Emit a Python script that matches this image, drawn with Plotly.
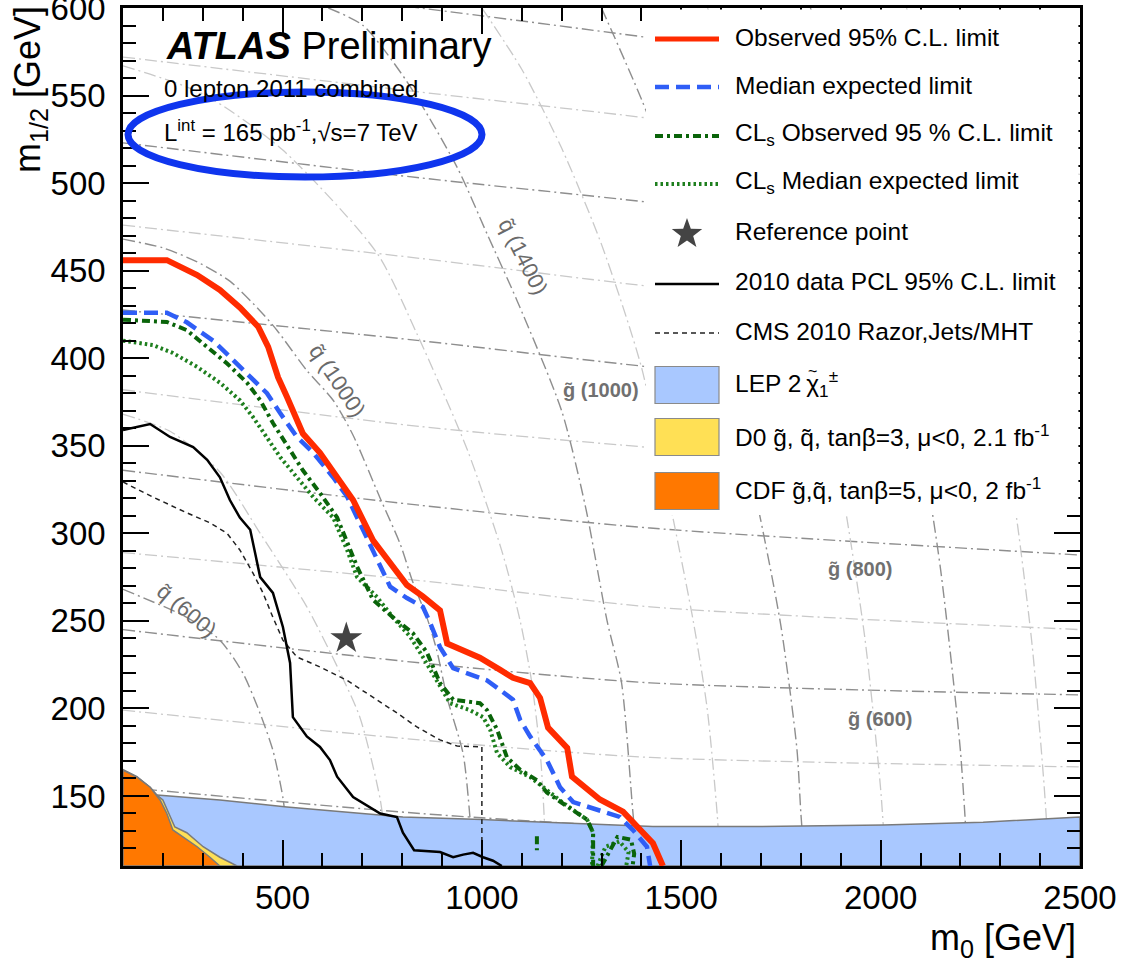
import math
import plotly.graph_objects as go

FONT = "Liberation Sans, Arial, Helvetica, sans-serif"

# axis ranges (m0, m1/2 in GeV)
X_RANGE = [100, 2500]
Y_RANGE = [110, 600]

# ---------------- exclusion contours ----------------
obs_m0 = [100, 210, 286, 343, 393, 439, 464, 489, 511, 551, 594, 637, 677, 727, 777, 812, 852, 895, 913, 963,
          995, 1046, 1078, 1121, 1146, 1166, 1214, 1226, 1296, 1354, 1389, 1429, 1454]
obs_m12 = [456, 456, 447.5, 439, 429, 418, 406.5, 389, 378, 357, 346, 332, 319, 296, 281, 270.5, 264, 256, 237, 232,
           229, 222, 217.5, 214.5, 206, 189, 177.5, 161, 148, 141, 132, 123, 110]

exp_m0 = [100, 210, 260, 326, 376, 426, 461, 494, 536, 577, 627, 662, 702, 752, 770, 812, 852, 870, 895, 928,
          988, 1013, 1046, 1078, 1096, 1121, 1163, 1196, 1229, 1296, 1346, 1379, 1414, 1422]
exp_m12 = [426, 426, 420.5, 410, 399, 387.5, 380, 368.7, 355, 346, 332, 321, 302, 277.5, 269.5, 263, 258, 249, 235, 223,
           218, 216, 210.5, 205, 193.5, 184, 170.5, 155, 146.5, 142, 138, 130.5, 121, 110]

cls_obs_m0 = [100, 210, 260, 311, 361, 411, 444, 476, 519, 551, 594, 637, 687, 727, 777, 827, 862, 895, 928, 995,
              1013, 1038, 1063, 1096, 1138, 1163, 1214, 1264, 1279, 1279,
              None, 1138, 1138,
              None, 1300, 1340, 1374, 1382, 1378]
cls_obs_m12 = [422, 420.7, 416, 406.4, 397, 386, 376, 363, 347.6, 336, 323, 309, 281, 262, 252, 243, 232, 214.5, 205, 203,
               199, 188, 172, 165, 159, 152, 144, 136.5, 129, 110,
               None, 127, 119,
               None, 110, 126.6, 125, 117, 110]

cls_exp_m0 = [100, 175, 225, 286, 343, 393, 426, 461, 494, 536, 577, 627, 662, 687, 737, 777, 820, 852, 887, 920,
              970, 1003, 1021, 1038, 1071, 1121, 1163, 1204, 1264, 1279, 1276,
              None, 1290, 1310, 1345, 1368, 1362]
cls_exp_m12 = [410, 407.5, 403, 395, 386, 376, 366.4, 355, 343.6, 332, 320.7, 309, 290.5, 275, 263.6, 252, 241, 229.4, 216, 203,
               199, 195, 187.7, 174.5, 166.5, 160.8, 153.4, 146, 136.4, 129, 110,
               None, 110, 121, 124, 118, 110]

pcl2010_m0 = [100, 168, 218, 276, 311, 343, 368, 393, 419, 444, 476, 501, 519, 526, 561, 594, 619, 637, 677, 745,
              787, 802, 830, 895, 928, 953, 978, 1003, 1028, 1050]
pcl2010_m12 = [359, 362.4, 355, 349.3, 342, 332, 319, 309, 302, 275, 266, 246.5, 226, 195, 184, 178, 170.5, 161, 149.4, 140,
               138, 129, 119, 118, 115, 116.5, 117.5, 115, 113, 110]

cms2010_m0 = [100, 175, 261, 318, 361, 393, 426, 451, 476, 501, 536, 594, 662, 727, 787, 837, 895, 938, 1000, 1000]
cms2010_m12 = [329.3, 320.7, 311.6, 306, 300, 290.5, 277.3, 266, 252, 239, 229.4, 223.7, 216, 206.5, 197.4, 189.4, 182,
               178.5, 178, 110]

# excluded regions from earlier experiments (upper edges)
lep_m0 = [100, 185, 343, 511, 677, 802, 1000, 1178, 1429, 1700, 2006, 2257, 2500]
lep_m12 = [152, 150.5, 147.7, 143.7, 140.3, 138, 136.5, 135, 132.5, 132.5, 133.4, 135, 138]

d0_m0 = [100, 135, 168, 185, 200, 230, 260, 301, 343, 386]
d0_m12 = [165, 161, 155, 150.5, 147.7, 132.3, 129, 121, 115, 110]

cdf_m0 = [100, 135, 168, 193, 210, 225, 250, 286, 318, 343]
cdf_m12 = [164.8, 160.8, 155, 147.7, 140, 130.6, 126.6, 121, 115, 110]

ref_m0 = [660]
ref_m12 = [240]

# ---------------- gluino iso-mass lines ----------------
gl_m0 = [100, 845, 1422, 2500]
gl400_m12 = [155, 140, 132, 127]
gl500_m12 = [199, 182, 172, 166.6]
gl600_m12 = [245, 226, 214.6, 207.7]
gl700_m12 = [289, 273, 258, 245]
gl800_m12 = [336, 316, 303, 287.6]
gl900_m12 = [382, 361, 349, 330]
gl1000_m12 = [427.5, 410, 395, 372]
gl1100_m12 = [476, 457, 441, 415]
gl1200_m12 = [523, 503, 489, 460]
gl1300_m12 = [572, 552, 537, 505]
gl1400_m12 = [620, 600, 583, 550]

# ---------------- squark iso-mass lines ----------------
sq600_m0 = [100, 260, 343, 401, 444, 476, 501, 515]
sq600_m12 = [268, 252, 239, 220, 197, 176, 149, 120]
sq800_m0 = [100, 220, 343, 444, 561, 637, 694, 745, 765]
sq800_m12 = [368, 358, 335, 300, 258, 224, 195, 148, 110]
sq1000_m0 = [100, 200, 286, 368, 444, 486, 561, 627, 677, 745, 795, 827, 862, 887, 913, 953, 970, 978]
sq1000_m12 = [468, 463, 455, 444, 427, 416, 393, 376, 356, 320, 294, 272, 252, 233, 206, 174, 138, 110]
sq1200_m0 = [100, 300, 500, 737, 837, 963, 1050, 1096, 1125, 1148, 1162]
sq1200_m12 = [567, 551, 519, 460, 414, 348, 290, 250, 215, 170, 110]
sq1400_m0 = [615, 702, 812, 938, 1013, 1088, 1200, 1260, 1314, 1350, 1379, 1392]
sq1400_m12 = [600, 590, 558, 509, 471, 433, 370, 315, 250, 215, 140, 110]
sq1600_m0 = [1000, 1100, 1200, 1300, 1400, 1479, 1530, 1565, 1590, 1598]
sq1600_m12 = [600, 565, 520, 465, 395, 309, 250, 200, 140, 110]
sq1800_m0 = [1300, 1400, 1500, 1600, 1698, 1750, 1790, 1800, 1810]
sq1800_m12 = [600, 548, 488, 412, 309, 247, 177, 140, 110]
sq2000_m0 = [1566, 1700, 1800, 1900, 1960, 2000, 2013]
sq2000_m12 = [600, 515, 435, 329, 241, 154, 110]
sq2200_m0 = [1824, 1900, 2000, 2100, 2150, 2200, 2219]
sq2200_m12 = [600, 546, 462, 353, 280, 176, 110]
sq2400_m0 = [2065, 2100, 2200, 2300, 2342, 2380, 2410, 2423]
sq2400_m12 = [600, 573, 484, 370, 307, 236, 156, 110]

# contour labels
sq_label_text = ["q\u0303 (600)", "q\u0303 (1000)", "q\u0303 (1400)"]
sq_label_m0 = [260, 637, 1103]
sq_label_m12 = [256, 387, 458]
sq_label_angle = [40, 56, 63]
gl_label_text = ["g\u0303 (1000)", "g\u0303 (800)", "g\u0303 (600)"]
gl_label_m0 = [1299, 1948, 1998]
gl_label_m12 = [382, 279.6, 194]

# legend entries
legend_labels = [
    "Observed 95% C.L. limit",
    "Median expected limit",
    "CL<sub>s</sub> Observed 95 % C.L. limit",
    "CL<sub>s</sub> Median expected limit",
    "Reference point",
    "2010 data PCL 95% C.L. limit",
    "CMS 2010 Razor,Jets/MHT",
    "LEP 2\u2009\u03c7<sub>1</sub><sup>\u00b1</sup>",
    "D0 g\u0303, q\u0303, tan\u03b2=3, \u03bc&lt;0, 2.1 fb<sup>-1</sup>",
    "CDF g\u0303,q\u0303, tan\u03b2=5, \u03bc&lt;0, 2 fb<sup>-1</sup>",
]

# ---------------- styles ----------------
RED = "#FF2B00"
BLUE = "#2F5EF6"
GREEN_DD = "#0A640A"
GREEN_DOT = "#1E7F1E"
LEP_FILL = "#A9C8FF"
D0_FILL = "#FFE055"
CDF_FILL = "#FF7800"
GRID_DARK = dict(color="#8E8E8E", width=1.4, dash="12px,4px,2px,4px")
GRID_LIGHT = dict(color="#C9C9C9", width=1.3, dash="12px,4px,2px,4px")

obs_line = dict(color=RED, width=6)
exp_line = dict(color=BLUE, width=4.5, dash="14px,7px")
cls_obs_line = dict(color=GREEN_DD, width=4, dash="8px,4px,3px,4px")
cls_exp_line = dict(color=GREEN_DOT, width=4, dash="2.5px,3px")
pcl_line = dict(color="black", width=2.5)
cms_line = dict(color="#222222", width=1.5, dash="5px,4px")

fig = go.Figure()


def iso_line(m0, m12, style):
    fig.add_trace(go.Scatter(x=m0, y=m12, mode="lines",
                             line=dict(shape="spline", smoothing=0.7, **style),
                             hoverinfo="skip", showlegend=False))


for m12 in [gl400_m12, gl600_m12, gl800_m12, gl1000_m12, gl1200_m12, gl1400_m12]:
    iso_line(gl_m0, m12, GRID_DARK)
for m12 in [gl500_m12, gl700_m12, gl900_m12, gl1100_m12, gl1300_m12]:
    iso_line(gl_m0, m12, GRID_LIGHT)
for m0, m12 in [(sq600_m0, sq600_m12), (sq1000_m0, sq1000_m12), (sq1400_m0, sq1400_m12),
                (sq1800_m0, sq1800_m12), (sq2200_m0, sq2200_m12)]:
    iso_line(m0, m12, GRID_DARK)
for m0, m12 in [(sq800_m0, sq800_m12), (sq1200_m0, sq1200_m12), (sq1600_m0, sq1600_m12),
                (sq2000_m0, sq2000_m12), (sq2400_m0, sq2400_m12)]:
    iso_line(m0, m12, GRID_LIGHT)


def region(m0, m12, fill, closing):
    xs = [X_RANGE[0]] + m0 + closing[0]
    ys = [Y_RANGE[0]] + m12 + closing[1]
    fig.add_trace(go.Scatter(x=xs, y=ys, mode="lines", fill="toself", fillcolor=fill,
                             line=dict(color="#7a7a7a", width=1.5),
                             hoverinfo="skip", showlegend=False))


region(lep_m0, lep_m12, LEP_FILL, ([X_RANGE[1], X_RANGE[0]], [Y_RANGE[0], Y_RANGE[0]]))
region(d0_m0, d0_m12, D0_FILL, ([X_RANGE[0]], [Y_RANGE[0]]))
region(cdf_m0, cdf_m12, CDF_FILL, ([X_RANGE[0]], [Y_RANGE[0]]))

for xs, ys, st in [(cms2010_m0, cms2010_m12, cms_line),
                   (pcl2010_m0, pcl2010_m12, pcl_line),
                   (cls_exp_m0, cls_exp_m12, cls_exp_line),
                   (cls_obs_m0, cls_obs_m12, cls_obs_line),
                   (exp_m0, exp_m12, exp_line),
                   (obs_m0, obs_m12, obs_line)]:
    fig.add_trace(go.Scatter(x=xs, y=ys, mode="lines", line=st, connectgaps=False,
                             hoverinfo="skip", showlegend=False))

fig.add_trace(go.Scatter(x=ref_m0, y=ref_m12, mode="markers",
                         marker=dict(symbol="star", size=24, color="#444444", line=dict(width=0)),
                         hoverinfo="skip", showlegend=False))

annotations = []
for t, x, y, a in zip(sq_label_text, sq_label_m0, sq_label_m12, sq_label_angle):
    annotations.append(dict(text=t, x=x, y=y, xref="x", yref="y", showarrow=False, textangle=a,
                            font=dict(family=FONT, size=22, color="#6a6a6a")))
for t, x, y in zip(gl_label_text, gl_label_m0, gl_label_m12):
    annotations.append(dict(text="<b>" + t + "</b>", x=x, y=y, xref="x", yref="y", showarrow=False,
                            font=dict(family=FONT, size=20, color="#707070")))

# ---------------- frame geometry (pixels) ----------------
W, H = 1130, 964
ML, MR, MT, MB = 123, 50, 8, 98
PW, PH = W - ML - MR, H - MT - MB


def px(xp):
    return (xp - ML) / PW


def py(yp):
    return 1 - (yp - MT) / PH


shapes = []
# legend panel
shapes.append(dict(type="rect", xref="paper", yref="paper", layer="above",
                   x0=px(646), x1=1 - 1.6 / PW, y0=py(515), y1=1 - 1.6 / PH,
                   fillcolor="white", line=dict(width=0)))

row_y = [39, 87, 136, 184, 233, 284, 333, 385, 437, 491]
sample_x0, sample_x1, text_x = px(655), px(719), px(733)
line_styles = [obs_line, exp_line, cls_obs_line, cls_exp_line, None, pcl_line, cms_line]
for yp, st in zip(row_y, line_styles):
    if st is None:
        continue
    lw = dict(st)
    lw["width"] = min(st["width"], 5)
    shapes.append(dict(type="line", xref="paper", yref="paper", layer="above",
                       x0=sample_x0, x1=sample_x1, y0=py(yp), y1=py(yp), line=lw))
for yp, fc in zip(row_y[7:], [LEP_FILL, D0_FILL, CDF_FILL]):
    shapes.append(dict(type="rect", xref="paper", yref="paper", layer="above",
                       x0=sample_x0, x1=sample_x1, y0=py(yp + 18.5), y1=py(yp - 18.5),
                       fillcolor=fc, line=dict(color="#8a8a8a", width=1.2)))

# five-pointed star glyph for the reference-point entry
cx, cy = 687, row_y[4] + 1
pts = []
for k in range(10):
    r = 16 if k % 2 == 0 else 6.5
    ang = math.pi / 2 + k * math.pi / 5
    pts.append((px(cx + r * math.cos(ang)), py(cy - r * math.sin(ang))))
star_path = "M " + " L ".join(f"{x:.5f},{y:.5f}" for x, y in pts) + " Z"
shapes.append(dict(type="path", xref="paper", yref="paper", layer="above", path=star_path,
                   fillcolor="#444444", line=dict(width=0)))

for yp, lab in zip(row_y, legend_labels):
    annotations.append(dict(text=lab, xref="paper", yref="paper", x=text_x, y=py(yp - 2),
                            xanchor="left", yanchor="middle", showarrow=False,
                            font=dict(family=FONT, size=24.5, color="black")))
# tilde accent over the chargino symbol
annotations.append(dict(text="~", xref="paper", yref="paper", x=px(812), y=py(row_y[7] - 14),
                        xanchor="center", yanchor="middle", showarrow=False,
                        font=dict(family=FONT, size=16, color="black")))

# blue highlight around the luminosity line
shapes.append(dict(type="circle", xref="paper", yref="paper", layer="above",
                   x0=px(128), x1=px(482), y0=py(177), y1=py(92),
                   line=dict(color="#0F35EE", width=7)))

# plot texts
annotations.append(dict(text="<b><i>ATLAS</i></b> Preliminary", xref="paper", yref="paper",
                        x=px(164), y=py(46), xanchor="left", yanchor="middle", showarrow=False,
                        font=dict(family=FONT, size=38, color="black")))
annotations.append(dict(text="0 lepton 2011 combined", xref="paper", yref="paper",
                        x=px(162), y=py(89), xanchor="left", yanchor="middle", showarrow=False,
                        font=dict(family=FONT, size=24, color="black")))
annotations.append(dict(text="L<sup>int</sup> = 165 pb<sup>-1</sup>,\u221as=7 TeV", xref="paper", yref="paper",
                        x=px(162), y=py(131), xanchor="left", yanchor="middle", showarrow=False,
                        font=dict(family=FONT, size=24, color="black")))

# axis titles
annotations.append(dict(text="m<sub>0</sub> [GeV]", xref="paper", yref="paper",
                        x=px(1078), y=py(940), xanchor="right", yanchor="middle", showarrow=False,
                        font=dict(family=FONT, size=36, color="black")))
annotations.append(dict(text="m<sub>1/2</sub> [GeV]", xref="paper", yref="paper",
                        x=px(30), y=py(90), xanchor="center", yanchor="middle", showarrow=False,
                        textangle=-90, font=dict(family=FONT, size=36, color="black")))

axis_common = dict(showgrid=False, zeroline=False, showline=True, linecolor="black", linewidth=2.5,
                   mirror="allticks", ticks="inside", ticklen=26, tickwidth=2, tickcolor="black",
                   ticklabeloverflow="allow", automargin=False,
                   tickfont=dict(family=FONT, size=33, color="black"))

fig.update_xaxes(range=X_RANGE, tick0=0, dtick=500, ticklabelstandoff=1,
                 minor=dict(dtick=100, ticks="inside", ticklen=13, tickwidth=2, tickcolor="black", showgrid=False),
                 **axis_common)
fig.update_yaxes(range=Y_RANGE, tick0=0, dtick=50, ticklabelstandoff=8,
                 minor=dict(dtick=10, ticks="inside", ticklen=13, tickwidth=2, tickcolor="black", showgrid=False),
                 **axis_common)

fig.update_layout(width=W, height=H, margin=dict(l=ML, r=MR, t=MT, b=MB, autoexpand=False),
                  paper_bgcolor="white", plot_bgcolor="white", showlegend=False,
                  shapes=shapes, annotations=annotations,
                  font=dict(family=FONT, color="black"))

fig.write_html("out.html")
